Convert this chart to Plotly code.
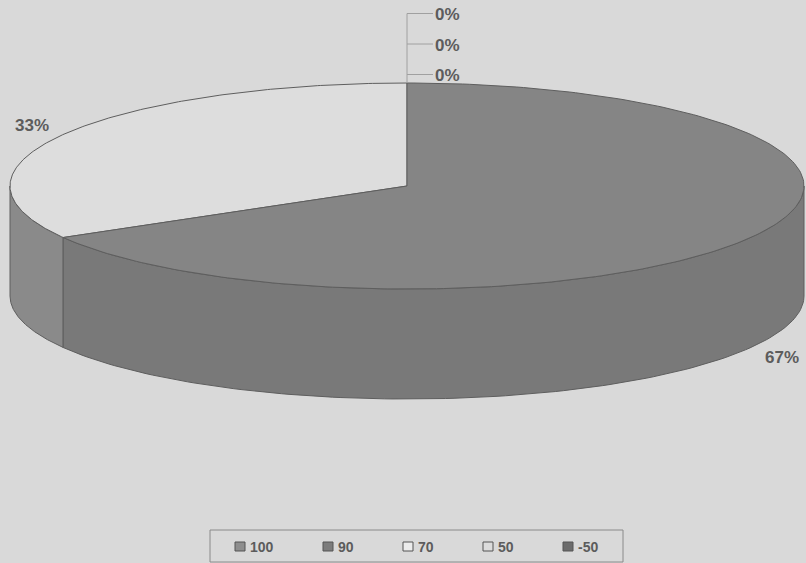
import numpy as np
import plotly.graph_objects as go

# ---- data ----
categories = ["100", "90", "70", "50", "-50"]
values = [0, 0, 0, 1, 2]
top_colors = ["#8c8c8c", "#7a7a7a", "#f0f0f0", "#dddddd", "#858585"]
side_colors = ["#777777", "#666666", "#a0a0a0", "#8a8a8a", "#797979"]
legend_colors = ["#8e8e8e", "#7c7c7c", "#ececec", "#dcdcdc", "#6c6c6c"]

# ---- geometry (pixel space) ----
W, H = 806, 563
cx, cy = 407, 186
rx, ry = 397, 103
depth = 110
bg = "#d9d9d9"
edge = "#5e5e5e"
txt = "#5c5c5c"
FONT = "Liberation Sans, Arial, sans-serif"

total = float(sum(values))
fracs = [v / total for v in values]


def pt(theta_deg, dy=0.0):
    t = np.radians(theta_deg)
    return cx + rx * np.sin(t), cy - ry * np.cos(t) + dy


fig = go.Figure()

# slices go counter-clockwise from 12 o'clock (theta measured clockwise)
bounds = []
cum = 0.0
for f in fracs:
    a0 = 360 - cum * 360
    a1 = 360 - (cum + f) * 360
    bounds.append((a1, a0))
    cum += f

# side walls (visible front half: 90..270)
for i, (a1, a0) in enumerate(bounds):
    lo, hi = max(a1, 90), min(a0, 270)
    if hi <= lo:
        continue
    th = np.linspace(lo, hi, 120)
    xs_t, ys_t = pt(th)
    xs_b, ys_b = pt(th[::-1], depth)
    xs = np.concatenate([xs_t, xs_b, xs_t[:1]])
    ys = np.concatenate([ys_t, ys_b, ys_t[:1]])
    fig.add_trace(go.Scatter(x=xs, y=ys, mode="lines", fill="toself",
                             fillcolor=side_colors[i],
                             line=dict(color=edge, width=1),
                             hoverinfo="skip", showlegend=False))

# top faces
for i, (a1, a0) in enumerate(bounds):
    if a0 - a1 <= 0:
        continue
    th = np.linspace(a1, a0, 240)
    xs, ys = pt(th)
    xs = np.concatenate([[cx], xs, [cx]])
    ys = np.concatenate([[cy], ys, [cy]])
    fig.add_trace(go.Scatter(x=xs, y=ys, mode="lines", fill="toself",
                             fillcolor=top_colors[i],
                             line=dict(color=edge, width=1),
                             hoverinfo="skip", showlegend=False))

lab_font = dict(family=FONT, size=17, color=txt, weight="bold")

annotations = []
shapes = []
zero_idx = 0
for i, (a1, a0) in enumerate(bounds):
    pct = "{:.0f}%".format(fracs[i] * 100)
    if fracs[i] == 0:
        ly = cy - ry - 8.5 - 30.5 * (2 - zero_idx)
        top_y = cy - ry
        shapes.append(dict(type="line", x0=cx, x1=cx + 26, y0=ly, y1=ly,
                           xref="x", yref="y", line=dict(color="#a0a0a0", width=1)))
        if zero_idx == 0:
            shapes.append(dict(type="line", x0=cx, x1=cx, y0=ly, y1=top_y,
                               xref="x", yref="y", line=dict(color="#a0a0a0", width=1)))
        annotations.append(dict(x=cx + 26, y=ly + 1, text=pct, showarrow=False,
                                xanchor="left", yanchor="middle", font=lab_font))
        zero_idx += 1
        continue
    mid = (a0 + a1) / 2
    t = np.radians(mid)
    lx = cx + 1.09 * rx * np.sin(t)
    ly = cy - 1.1 * ry * np.cos(t) - 4
    if np.cos(t) < 0:
        ly += depth + 9
    annotations.append(dict(x=lx, y=ly, text=pct, showarrow=False,
                            xanchor="center", yanchor="middle", font=lab_font))

# legend (drawn manually to match spacing)
leg_x0, leg_x1, leg_y0, leg_y1 = 210, 623, 530, 562
shapes.append(dict(type="rect", x0=leg_x0, x1=leg_x1, y0=leg_y0, y1=leg_y1,
                   xref="x", yref="y", line=dict(color="#8a8a8a", width=1),
                   fillcolor=bg))
item_left = [235, 323, 403, 483, 563]
for i, c in enumerate(categories):
    mx = item_left[i]
    shapes.append(dict(type="rect", x0=mx, x1=mx + 10, y0=542, y1=551,
                       xref="x", yref="y", line=dict(color="#555555", width=1),
                       fillcolor=legend_colors[i]))
    annotations.append(dict(x=mx + 13, y=546.5, text=c, showarrow=False,
                            xanchor="left", yanchor="middle",
                            font=dict(family=FONT, size=14, color=txt, weight="bold")))

fig.update_layout(
    width=W, height=H,
    margin=dict(l=0, r=0, t=0, b=0),
    paper_bgcolor=bg, plot_bgcolor=bg,
    xaxis=dict(range=[0, W], visible=False, fixedrange=True),
    yaxis=dict(range=[H, 0], visible=False, fixedrange=True),
    showlegend=False,
    shapes=shapes,
    annotations=annotations,
)

fig.write_html("out.html")
